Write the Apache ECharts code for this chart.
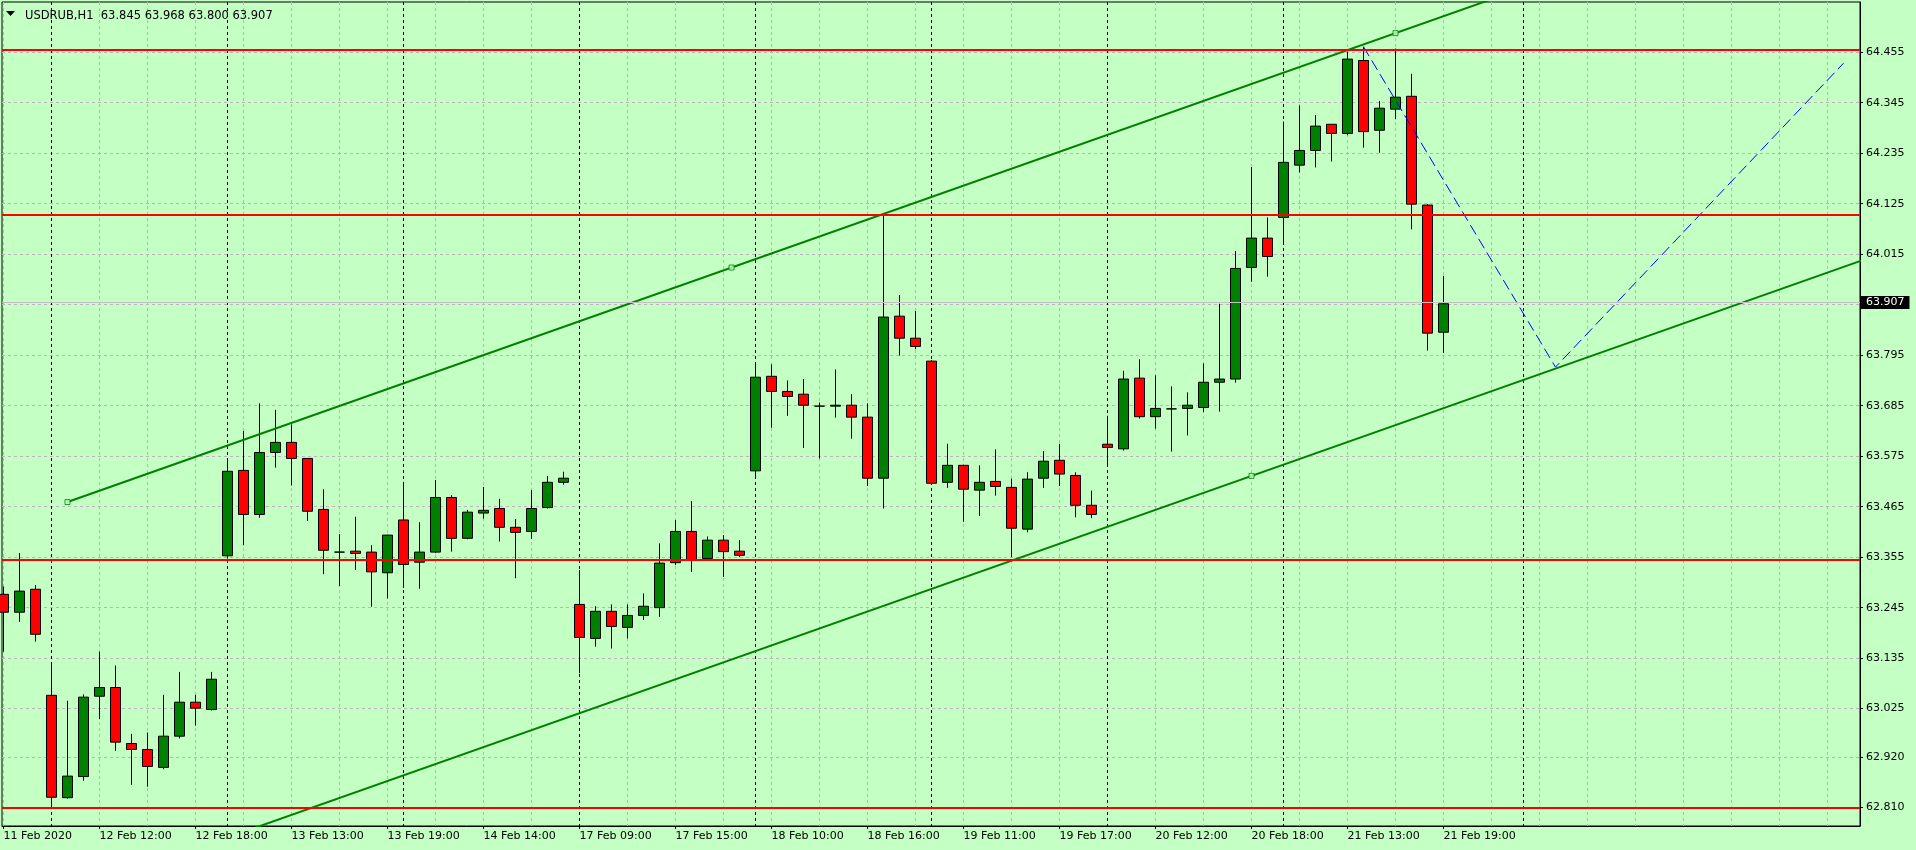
<!DOCTYPE html>
<html>
<head>
<meta charset="utf-8">
<script src="https://cdn.jsdelivr.net/npm/echarts@6/dist/echarts.min.js"></script>
<style>
  html, body { margin: 0; padding: 0; background: #c4ffc4; }
  #chart { width: 1916px; height: 850px; }
</style>
</head>
<body>
<div id="chart"></div>
<script>
// ---------------- data ----------------
const SYMBOL = 'USDRUB,H1';

// hourly bars: 11 Feb 17:00 ... 21 Feb 19:00 (index = position in arrays)
const open = [
  63.274, 63.235, 63.285,
  63.054, 62.831, 62.877, 63.052, 63.071, 62.949, 62.936, 62.897, 62.965, 63.039, 63.023,
  63.358, 63.544, 63.448, 63.583, 63.605, 63.570, 63.459, 63.366, 63.368, 63.366, 63.321,
  63.436, 63.344, 63.366, 63.485, 63.396, 63.451, 63.461, 63.420, 63.411, 63.463, 63.518,
  63.252, 63.178, 63.237, 63.202, 63.228, 63.245, 63.343, 63.411, 63.352, 63.392, 63.368,
  63.543, 63.749, 63.716, 63.710, 63.684, 63.684, 63.686, 63.660, 63.527, 63.880, 63.832,
  63.782, 63.518, 63.555, 63.501, 63.520, 63.507, 63.416, 63.527, 63.566, 63.533, 63.468,
  63.601, 63.591, 63.745, 63.661, 63.678, 63.679, 63.681, 63.736, 63.743, 63.986, 64.050,
  64.095, 64.209, 64.241, 64.298, 64.278, 64.437, 64.285, 64.331, 64.359, 64.122, 63.845
];
const close = [
  63.235, 63.281, 63.187,
  62.832, 62.878, 63.050, 63.071, 62.952, 62.936, 62.899, 62.965, 63.039, 63.026, 63.089,
  63.542, 63.448, 63.583, 63.605, 63.570, 63.455, 63.370, 63.366, 63.363, 63.323, 63.403,
  63.339, 63.366, 63.485, 63.396, 63.453, 63.457, 63.420, 63.409, 63.461, 63.518, 63.527,
  63.180, 63.237, 63.204, 63.228, 63.248, 63.342, 63.411, 63.349, 63.392, 63.367, 63.359,
  63.747, 63.716, 63.705, 63.686, 63.684, 63.686, 63.660, 63.527, 63.878, 63.832, 63.814,
  63.516, 63.555, 63.503, 63.518, 63.509, 63.418, 63.525, 63.564, 63.536, 63.468, 63.448,
  63.594, 63.743, 63.661, 63.679, 63.678, 63.686, 63.736, 63.743, 63.984, 64.050, 64.010,
  64.215, 64.241, 64.294, 64.278, 64.440, 64.282, 64.333, 64.357, 64.124, 63.843, 63.907
];
const low = [
  63.149, 63.214, 63.171,
  62.811, 62.829, 62.868, 63.002, 62.933, 62.859, 62.855, 62.893, 62.960, 62.988, 63.021,
  63.352, 63.381, 63.441, 63.550, 63.511, 63.434, 63.318, 63.292, 63.327, 63.247, 63.265,
  63.288, 63.286, 63.364, 63.367, 63.394, 63.439, 63.389, 63.309, 63.395, 63.461, 63.513,
  63.102, 63.160, 63.156, 63.178, 63.218, 63.225, 63.338, 63.323, 63.350, 63.312, 63.355,
  63.526, 63.637, 63.663, 63.593, 63.570, 63.659, 63.613, 63.510, 63.461, 63.794, 63.808,
  63.513, 63.506, 63.432, 63.445, 63.489, 63.355, 63.409, 63.506, 63.510, 63.442, 63.440,
  63.552, 63.587, 63.657, 63.635, 63.585, 63.620, 63.671, 63.672, 63.735, 63.955, 63.966,
  64.037, 64.193, 64.204, 64.217, 64.274, 64.247, 64.236, 64.309, 64.069, 63.805, 63.800
];
const high = [
  63.291, 63.364, 63.294,
  63.126, 63.042, 63.056, 63.149, 63.119, 62.970, 62.973, 63.055, 63.105, 63.055, 63.105,
  63.570, 63.630, 63.690, 63.676, 63.644, 63.571, 63.503, 63.405, 63.443, 63.381, 63.404,
  63.519, 63.431, 63.523, 63.490, 63.458, 63.508, 63.482, 63.438, 63.501, 63.532, 63.541,
  63.327, 63.248, 63.252, 63.252, 63.276, 63.385, 63.436, 63.477, 63.400, 63.403, 63.392,
  63.780, 63.775, 63.740, 63.743, 63.692, 63.764, 63.710, 63.690, 64.104, 63.926, 63.891,
  63.784, 63.602, 63.556, 63.555, 63.590, 63.526, 63.540, 63.586, 63.602, 63.540, 63.500,
  63.663, 63.761, 63.786, 63.751, 63.727, 63.714, 63.777, 63.907, 64.022, 64.205, 64.095,
  64.304, 64.339, 64.318, 64.298, 64.456, 64.467, 64.349, 64.463, 64.408, 64.124, 63.968
];

// x axis tick labels (bar index -> text)
const xTickIdx = [0, 6, 12, 18, 24, 30, 36, 42, 48, 54, 60, 66, 72, 78, 84, 90];
const xTickLabels = ['11 Feb 2020', '12 Feb 12:00', '12 Feb 18:00', '13 Feb 13:00', '13 Feb 19:00',
  '14 Feb 14:00', '17 Feb 09:00', '17 Feb 15:00', '18 Feb 10:00', '18 Feb 16:00', '19 Feb 11:00',
  '19 Feb 17:00', '20 Feb 12:00', '20 Feb 18:00', '21 Feb 13:00', '21 Feb 19:00'];
// day separators (bar index of first bar of each day)
const daySeparators = [3, 14, 25, 36, 47, 58, 69, 80, 95];

// y axis tick values
const yTicks = [62.810, 62.920, 63.025, 63.135, 63.245, 63.355, 63.465, 63.575, 63.685,
  63.795, 63.905, 64.015, 64.125, 64.235, 64.345, 64.455];
const yLabelTicks = [62.810, 62.920, 63.025, 63.135, 63.245, 63.355, 63.465, 63.575, 63.685,
  63.795, 64.015, 64.125, 64.235, 64.345, 64.455];

// horizontal support / resistance levels
const levels = [64.464, 64.1045, 63.3476, 62.813];

// channel (index, price)
const channelUpper = [[4, 63.475], [95, 64.595]];
const channelLower = [[10, 62.695], [117, 64.012]];
const channelAnchors = [[4, 63.475], [45.5, 63.986], [87, 64.4966], [78, 63.532]];
// projected path
const projection = [[85, 64.467], [97, 63.769], [115, 64.431]];

// ---------------- layout ----------------
const BG = '#c4ffc4';
const GRID = '#bdb3bd';
const FONT = 'DejaVu Sans';
const GRID_LEFT = 2, GRID_RIGHT = 56, GRID_TOP = 2, GRID_BOTTOM = 24;
const BAR_PX = 16, BAR0_X = 3.5;
const X_MIN = (GRID_LEFT - BAR0_X) / BAR_PX;
const X_MAX = (1916 - GRID_RIGHT - BAR0_X) / BAR_PX;
const Y_MIN = 62.7693, Y_MAX = 64.5644;

const gridIdx = [];
for (let i = 0; i <= 117; i += 3) gridIdx.push(i);

const candles = open.map((o, i) => [i, o, close[i], low[i], high[i]]);
const last = open.length - 1;
const ohlcText = [open[last], high[last], low[last], close[last]].map(v => v.toFixed(3)).join(' ');

const chart = echarts.init(document.getElementById('chart'), null, { renderer: 'canvas' });

const baseX = { type: 'value', min: X_MIN, max: X_MAX, position: 'bottom' };

const option = {
  backgroundColor: BG,
  animation: false,
  title: {
    left: 20, top: 5,
    text: SYMBOL + '  ' + ohlcText,
    textStyle: { fontFamily: FONT, fontSize: 11.5, fontWeight: 'normal', color: '#000' }
  },
  graphic: [{
    type: 'polygon', silent: true,
    shape: { points: [[6, 11], [15, 11], [10.5, 16]] },
    style: { fill: '#000' }
  }],
  grid: {
    left: GRID_LEFT, right: GRID_RIGHT, top: GRID_TOP, bottom: GRID_BOTTOM,
    show: true, borderColor: '#000', borderWidth: 1, backgroundColor: 'transparent'
  },
  xAxis: [
    Object.assign({}, baseX, {
      axisLine: { show: true, onZero: false, lineStyle: { color: '#000', width: 1 } },
      axisTick: { show: true, customValues: xTickIdx, length: 3, lineStyle: { color: '#000' } },
      axisLabel: {
        customValues: xTickIdx, align: 'left', margin: 5, color: '#000',
        fontFamily: FONT, fontSize: 11,
        formatter: v => xTickLabels[xTickIdx.indexOf(Math.round(v))] || ''
      },
      splitLine: { show: false }
    }),
    Object.assign({}, baseX, {
      axisLine: { show: false }, axisLabel: { show: false },
      axisTick: { show: false, customValues: gridIdx },
      splitLine: { show: true, lineStyle: { color: GRID, width: 1, type: [3, 3] } }
    }),
    Object.assign({}, baseX, {
      axisLine: { show: false }, axisLabel: { show: false },
      axisTick: { show: false, customValues: daySeparators },
      splitLine: { show: true, lineStyle: { color: '#000', width: 1, type: [3, 3] } }
    })
  ],
  yAxis: {
    type: 'value', position: 'right', min: Y_MIN, max: Y_MAX,
    axisLine: { show: true, onZero: false, lineStyle: { color: '#000', width: 1 } },
    axisTick: { show: true, customValues: yTicks, length: 3, lineStyle: { color: '#000' } },
    axisLabel: {
      customValues: yLabelTicks, margin: 6, color: '#000', fontFamily: FONT, fontSize: 11,
      formatter: v => v.toFixed(3)
    },
    splitLine: { show: true, lineStyle: { color: GRID, width: 1, type: [3, 3] } }
  },
  series: [
    {
      name: 'bid', type: 'line', data: [], z: 1, silent: true,
      markLine: {
        silent: true, symbol: ['none', 'none'], animation: false,
        lineStyle: { color: '#c0c0c0', type: 'solid', width: 1 },
        label: {
          show: true, position: 'end', distance: 1,
          formatter: close[last].toFixed(3),
          backgroundColor: '#000', color: '#fff', padding: [1, 5, 1, 5],
          fontFamily: FONT, fontSize: 11
        },
        emphasis: { disabled: true },
        data: [{ yAxis: close[last] }]
      }
    },
    {
      name: SYMBOL, type: 'candlestick', z: 2,
      data: candles, barWidth: 10, silent: true,
      itemStyle: {
        color: '#008000', color0: '#ff0000',
        borderColor: '#000', borderColor0: '#000', borderColorDoji: '#000', borderWidth: 1
      }
    },
    {
      name: 'levels', type: 'line', data: [], z: 3, silent: true,
      markLine: {
        silent: true, symbol: ['none', 'none'], animation: false,
        lineStyle: { color: '#ff0000', type: 'solid', width: 2 },
        label: { show: false },
        emphasis: { disabled: true },
        data: levels.map(v => ({ yAxis: v }))
      }
    },
    {
      name: 'channelUpper', type: 'line', data: channelUpper, z: 4, silent: true,
      symbol: 'none', clip: true, lineStyle: { color: '#008000', width: 2 }
    },
    {
      name: 'channelLower', type: 'line', data: channelLower, z: 4, silent: true,
      symbol: 'none', clip: true, lineStyle: { color: '#008000', width: 2 }
    },
    {
      name: 'anchors', type: 'scatter', data: channelAnchors, z: 5, silent: true,
      symbol: 'rect', symbolSize: 5,
      itemStyle: { color: BG, borderColor: '#008000', borderWidth: 1 }
    },
    {
      name: 'projection', type: 'line', data: projection, z: 4, silent: true,
      symbol: 'none', clip: true, lineStyle: { color: '#0000ff', width: 1, type: [11, 5] }
    }
  ]
};

chart.setOption(option);
</script>
</body>
</html>
